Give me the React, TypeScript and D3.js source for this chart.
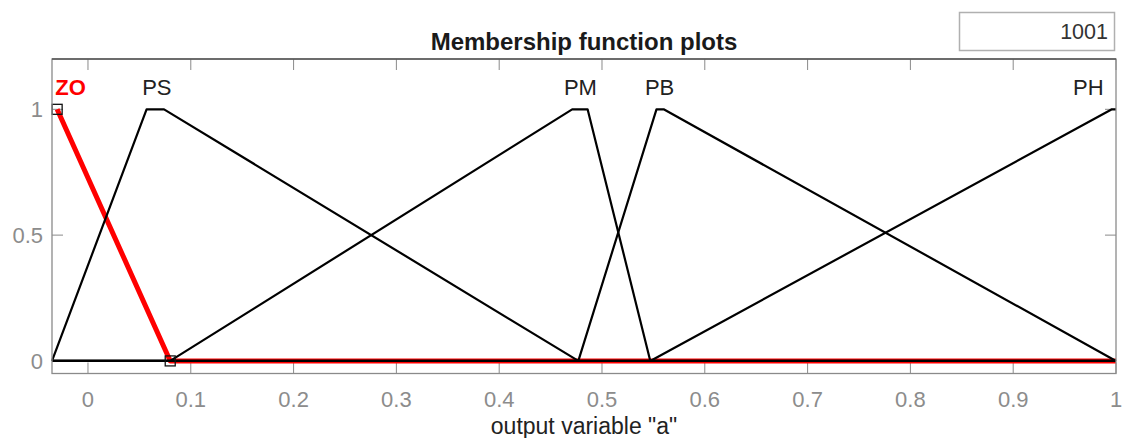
import React from "react";
import * as d3 from "d3";

type Pt = [number, number];

const mfNames = ["ZO", "PS", "PM", "PB", "PH"];
const zoPoints: Pt[] = [[-0.03, 1], [0.08, 0], [1, 0]];
const psPoints: Pt[] = [[-0.035, 0], [0.057, 1], [0.074, 1], [0.477, 0], [1, 0]];
const pmPoints: Pt[] = [[-0.035, 0], [0.08, 0], [0.471, 1], [0.486, 1], [0.547, 0], [1, 0]];
const pbPoints: Pt[] = [[-0.035, 0], [0.477, 0], [0.553, 1], [0.56, 1], [1, 0]];
const phPoints: Pt[] = [[-0.035, 0], [0.547, 0], [0.996, 1], [1, 1]];
const labelX = [-0.017, 0.067, 0.479, 0.556, 0.973];
const markerPoints: Pt[] = [[-0.03, 1], [0.08, 0]];
const xTicks = [0, 0.1, 0.2, 0.3, 0.4, 0.5, 0.6, 0.7, 0.8, 0.9, 1];
const yTicks = [0, 0.5, 1];
const xDomain: [number, number] = [-0.035, 1];
const yDomain: [number, number] = [-0.05, 1.2];
const titleText = "Membership function plots";
const xLabelText = 'output variable "a"';
const pointsText = "1001";

const W = 1125;
const H = 438;
const left = 52, right = 1116, top = 59, bottom = 373.5;
const FONT = "'Liberation Sans', Arial, Helvetica, sans-serif";
const AX = "#8a8a8a";

export default function App() {
  const x = d3.scaleLinear().domain(xDomain).range([left, right]);
  const y = d3.scaleLinear().domain(yDomain).range([bottom, top]);
  const line = d3.line<Pt>().x((d) => x(d[0])).y((d) => y(d[1]));
  const blackMfs = [psPoints, pmPoints, pbPoints, phPoints];
  const tickLen = 11;

  return (
    <svg width={W} height={H} style={{ position: "absolute", left: 0, top: 0, background: "#fff" }} fontFamily={FONT}>
      <rect x={0} y={0} width={W} height={H} fill="#fff" />
      {/* title */}
      <text x={(left + right) / 2} y={50} textAnchor="middle" fontSize={24} fontWeight="bold" fill="#1a1a1a">
        {titleText}
      </text>
      {/* points box */}
      <rect x={959.5} y={12.5} width={155} height={38} fill="#fff" stroke="#b0b0b0" strokeWidth={1.5} />
      <text x={1108} y={38.5} textAnchor="end" fontSize={21.5} fill="#333">{pointsText}</text>

      {/* ticks */}
      {xTicks.map((t) => (
        <g key={"xt" + t}>
          <line x1={x(t)} x2={x(t)} y1={bottom} y2={bottom - tickLen} stroke={AX} strokeWidth={1} />
          <line x1={x(t)} x2={x(t)} y1={top} y2={top + tickLen} stroke={AX} strokeWidth={1} />
          <text x={x(t)} y={406.5} textAnchor="middle" fontSize={22} fill="#8c8c8c">{String(t)}</text>
        </g>
      ))}
      {yTicks.map((t) => (
        <g key={"yt" + t}>
          <line x1={left} x2={left + tickLen} y1={y(t)} y2={y(t)} stroke={AX} strokeWidth={1} />
          <line x1={right} x2={right - tickLen} y1={y(t)} y2={y(t)} stroke={AX} strokeWidth={1} />
          <text x={43} y={y(t) + 8} textAnchor="end" fontSize={22} fill="#8c8c8c">{String(t)}</text>
        </g>
      ))}

      {/* ZO selected (red) */}
      <path d={line(zoPoints) || ""} fill="none" stroke="#ff0000" strokeWidth={5} strokeLinejoin="round" />
      {/* other MFs */}
      {blackMfs.map((pts, i) => (
        <path key={"mf" + i} d={line(pts) || ""} fill="none" stroke="#000" strokeWidth={2.2} strokeLinejoin="round" />
      ))}
      {markerPoints.map((p, i) => (
        <rect key={"mk" + i} x={x(p[0]) - 5} y={y(p[1]) - 5} width={10} height={10} fill="none" stroke="#111" strokeWidth={1.3} />
      ))}

      {/* MF labels */}
      {mfNames.map((n, i) => (
        <text key={n} x={x(labelX[i])} y={95} textAnchor="middle" fontSize={22}
          fontWeight={i === 0 ? "bold" : "normal"} fill={i === 0 ? "#ff0000" : "#222"}>
          {n}
        </text>
      ))}

      {/* axes box */}
      <rect x={left} y={top} width={right - left} height={bottom - top} fill="none" stroke={AX} strokeWidth={1.3} />
      <line x1={left} x2={right} y1={top} y2={top} stroke="#555" strokeWidth={1.3} />

      {/* x label */}
      <text x={(left + right) / 2} y={434} textAnchor="middle" fontSize={23} fill="#222">{xLabelText}</text>
    </svg>
  );
}
